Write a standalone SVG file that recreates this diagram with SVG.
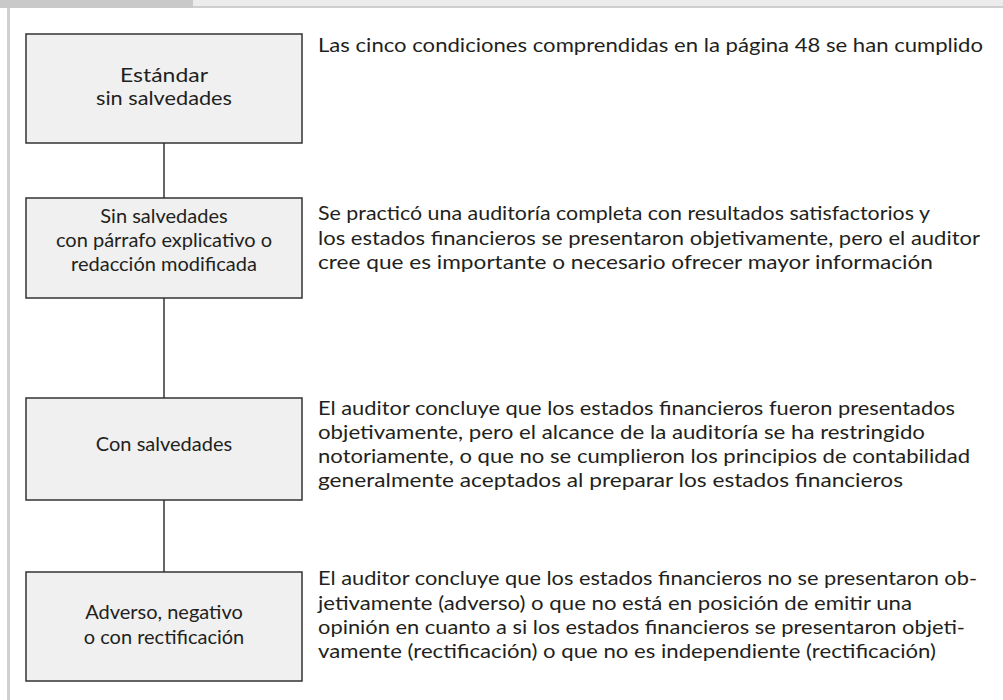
<svg xmlns="http://www.w3.org/2000/svg" width="1003" height="700" viewBox="0 0 1003 700">
<style>
.box{fill:#f0f0f0;stroke:#333;stroke-width:1.5}
.lbl{font-family:Lato,"Open Sans",sans-serif;font-size:20px;fill:#231f20;text-anchor:middle}
.desc{font-family:Lato,"Open Sans",sans-serif;font-size:20px;fill:#231f20}
.con{stroke:#333;stroke-width:1.5;fill:none}
</style>
<rect x="0" y="0" width="1003" height="700" fill="#fff"/>
<g id="frame">
<rect x="0" y="0" width="193" height="8" fill="#c9c9c9"/>
<rect x="193" y="0" width="810" height="6" fill="#ececec"/>
<rect x="193" y="6" width="810" height="2" fill="#cfcfcf"/>
<rect x="7" y="8" width="3" height="692" fill="#d0d0d0"/>
</g>
<g id="connectors">
<line class="con" x1="164" y1="143" x2="164" y2="198"/>
<line class="con" x1="164" y1="298" x2="164" y2="398"/>
<line class="con" x1="164" y1="500" x2="164" y2="572"/>
</g>
<g id="node1">
<rect class="box" x="26" y="34" width="276" height="109"/>
<text class="lbl" x="164" y="82" textLength="88" lengthAdjust="spacingAndGlyphs">Estándar</text>
<text class="lbl" x="164" y="105" textLength="136" lengthAdjust="spacingAndGlyphs">sin salvedades</text>
<text class="desc" x="318" y="52" textLength="665" lengthAdjust="spacingAndGlyphs">Las cinco condiciones comprendidas en la página 48 se han cumplido</text>
</g>
<g id="node2">
<rect class="box" x="26" y="198" width="276" height="100"/>
<text class="lbl" x="164" y="223">Sin salvedades</text>
<text class="lbl" x="164" y="247">con párrafo explicativo o</text>
<text class="lbl" x="164" y="271">redacción modificada</text>
<text class="desc" x="318" y="220" textLength="612" lengthAdjust="spacingAndGlyphs">Se practicó una auditoría completa con resultados satisfactorios y</text>
<text class="desc" x="318" y="245" textLength="662" lengthAdjust="spacingAndGlyphs">los estados financieros se presentaron objetivamente, pero el auditor</text>
<text class="desc" x="318" y="269" textLength="615" lengthAdjust="spacingAndGlyphs">cree que es importante o necesario ofrecer mayor información</text>
</g>
<g id="node3">
<rect class="box" x="26" y="398" width="276" height="102"/>
<text class="lbl" x="164" y="451">Con salvedades</text>
<text class="desc" x="318" y="415" textLength="637" lengthAdjust="spacingAndGlyphs">El auditor concluye que los estados financieros fueron presentados</text>
<text class="desc" x="318" y="439" textLength="607" lengthAdjust="spacingAndGlyphs">objetivamente, pero el alcance de la auditoría se ha restringido</text>
<text class="desc" x="318" y="463" textLength="652" lengthAdjust="spacingAndGlyphs">notoriamente, o que no se cumplieron los principios de contabilidad</text>
<text class="desc" x="318" y="487" textLength="585" lengthAdjust="spacingAndGlyphs">generalmente aceptados al preparar los estados financieros</text>
</g>
<g id="node4">
<rect class="box" x="26" y="572" width="276" height="109"/>
<text class="lbl" x="164" y="619">Adverso, negativo</text>
<text class="lbl" x="164" y="644">o con rectificación</text>
<text class="desc" x="318" y="585" textLength="659" lengthAdjust="spacingAndGlyphs">El auditor concluye que los estados financieros no se presentaron ob-</text>
<text class="desc" x="318" y="610" textLength="594" lengthAdjust="spacingAndGlyphs">jetivamente (adverso) o que no está en posición de emitir una</text>
<text class="desc" x="318" y="634" textLength="647" lengthAdjust="spacingAndGlyphs">opinión en cuanto a si los estados financieros se presentaron objeti-</text>
<text class="desc" x="318" y="658" textLength="618" lengthAdjust="spacingAndGlyphs">vamente (rectificación) o que no es independiente (rectificación)</text>
</g>
</svg>
